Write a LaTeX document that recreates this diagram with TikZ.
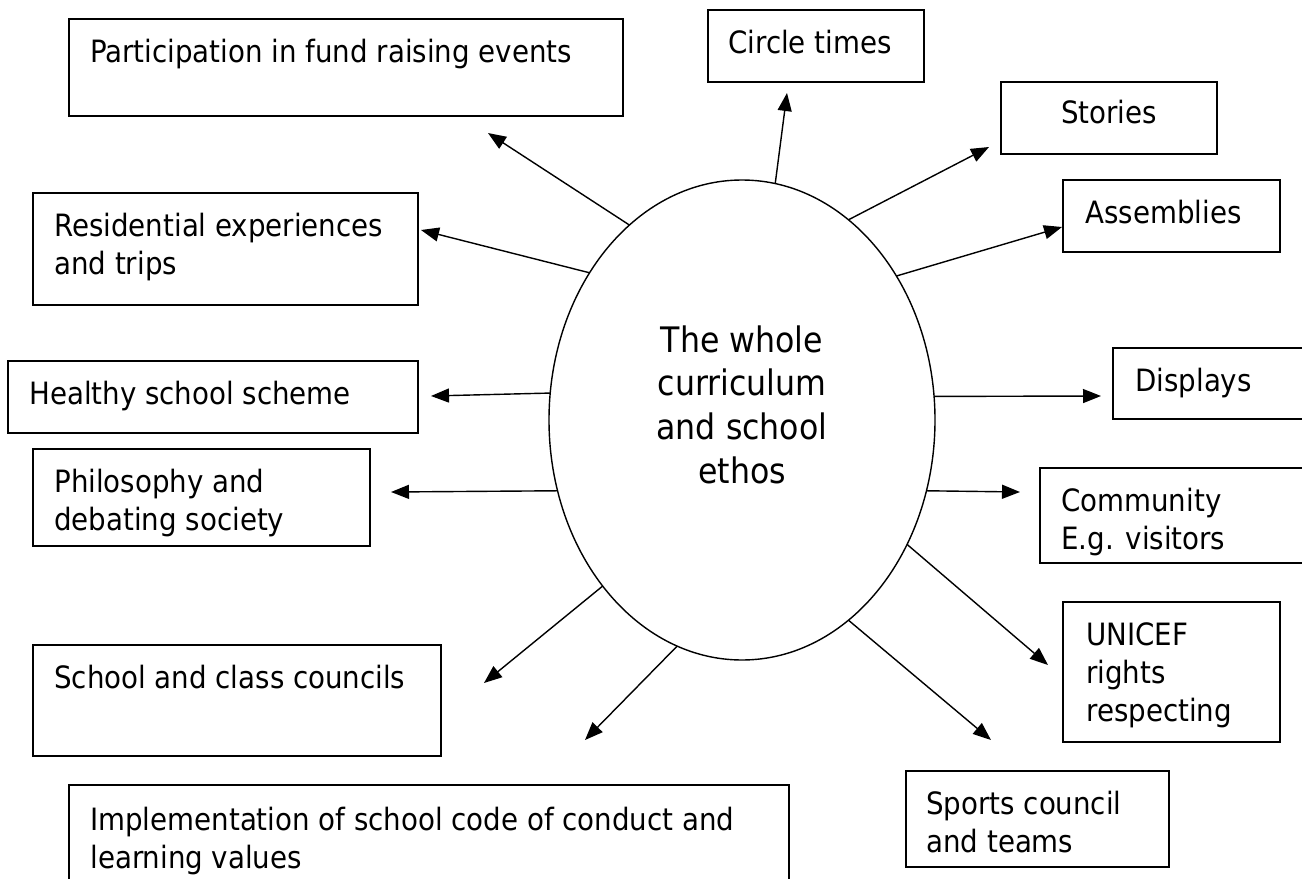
\documentclass[tikz,border=0pt]{standalone}
\usepackage{fontspec}
\setmainfont{DejaVu Sans Condensed}
\usetikzlibrary{shapes.geometric}
\usetikzlibrary{arrows.meta}
\newcommand{\px}{0.02cm}
\tikzset{
    topic/.style={draw, rectangle, anchor=north west, inner sep=0pt, outer sep=0pt, line width=0.9pt},
    topictext/.style={anchor=north west, inner sep=0pt, align=left, font=\fontsize{17.5}{21.6}\selectfont},
    hub/.style={draw, ellipse, inner sep=0pt, outer sep=0pt, line width=0.8pt, minimum width=386*\px, minimum height=480*\px},
    hubtext/.style={anchor=north, inner sep=0pt, align=center, font=\fontsize{20}{25}\selectfont},
    spoke/.style={draw, line width=0.8pt, -{Triangle[length=0.36cm, width=0.28cm]}}
}

\begin{document}
\begin{tikzpicture}[x=\px, y=-\px]
  \useasboundingbox (0,0) rectangle (1302,879);

  % the middle
  \node[hub] (hub) at (742,420) {};
  \node[hubtext] (hub-text) at (742,325) {The whole\\curriculum\\and school\\ethos};

  % left side
  \node[topic, minimum width=554*\px, minimum height=97*\px] (fund-box) at (69,19) {};
  \node[topictext] (fund-text) at ([shift={(21,20)}]fund-box.north west) {Participation in fund raising events};
  \node[topic, minimum width=385*\px, minimum height=112*\px] (resid-box) at (33,193) {};
  \node[topictext] (resid-text) at ([shift={(21,20)}]resid-box.north west) {Residential experiences\\and trips};
  \node[topic, minimum width=410*\px, minimum height=72*\px] (healthy-box) at (8,361) {};
  \node[topictext] (healthy-text) at ([shift={(21,20)}]healthy-box.north west) {Healthy school scheme};
  \node[topic, minimum width=337*\px, minimum height=97*\px] (philo-box) at (33,449) {};
  \node[topictext] (philo-text) at ([shift={(21,20)}]philo-box.north west) {Philosophy and\\debating society};
  \node[topic, minimum width=408*\px, minimum height=111*\px] (council-box) at (33,645) {};
  \node[topictext] (council-text) at ([shift={(21,20)}]council-box.north west) {School and class councils};
  \node[topic, minimum width=720*\px, minimum height=110*\px] (conduct-box) at (69,785) {};
  \node[topictext] (conduct-text) at ([shift={(21,22)}]conduct-box.north west) {Implementation of school code of conduct and\\learning values};

  % right side
  \node[topic, minimum width=216*\px, minimum height=72*\px] (circle-box) at (708,10) {};
  \node[topictext] (circle-text) at ([shift={(20,20)}]circle-box.north west) {Circle times};
  \node[topic, minimum width=216*\px, minimum height=72*\px] (stories-box) at (1001,82) {};
  \node[topictext, anchor=base] (stories-text) at ([shift={(0,41)}]stories-box.north) {Stories};
  \node[topic, minimum width=217*\px, minimum height=72*\px] (assembly-box) at (1063,180) {};
  \node[topictext] (assembly-text) at ([shift={(22,20)}]assembly-box.north west) {Assemblies};
  \node[topic, minimum width=210*\px, minimum height=71*\px] (display-box) at (1113,348) {};
  \node[topictext] (display-text) at ([shift={(22,20)}]display-box.north west) {Displays};
  \node[topic, minimum width=280*\px, minimum height=95*\px] (community-box) at (1040,468) {};
  \node[topictext] (community-text) at ([shift={(21,20)}]community-box.north west) {Community\\E.g. visitors};
  \node[topic, minimum width=217*\px, minimum height=140*\px] (unicef-box) at (1063,602) {};
  \node[topictext] (unicef-text) at ([shift={(23,20)}]unicef-box.north west) {UNICEF\\rights\\respecting};
  \node[topic, minimum width=263*\px, minimum height=96*\px] (sports-box) at (906,771) {};
  \node[topictext] (sports-text) at ([shift={(20,20)}]sports-box.north west) {Sports council\\and teams};

  % where the arrows stop
  \coordinate (fund-tip) at (488,133);
  \coordinate (resid-tip) at (421,230);
  \coordinate (healthy-tip) at (431,396);
  \coordinate (philo-tip) at (391,492);
  \coordinate (council-tip) at (484,683);
  \coordinate (conduct-tip) at (585,740);
  \coordinate (circle-tip) at (787,93);
  \coordinate (stories-tip) at (989,147);
  \coordinate (assembly-tip) at (1062,227);
  \coordinate (display-tip) at (1101,396);
  \coordinate (community-tip) at (1020,492);
  \coordinate (unicef-tip) at (1048,665);
  \coordinate (sports-tip) at (991,740);

  \path
    (hub.120.3) edge[spoke] (fund-tip)
    (hub.136.9) edge[spoke] (resid-tip)
    (hub.172.9) edge[spoke] (healthy-tip)
    (hub.201.4) edge[spoke] (philo-tip)
    (hub.230.4) edge[spoke] (council-tip)
    (hub.254.7) edge[spoke] (conduct-tip)
    (hub.82.2) edge[spoke] (circle-tip)
    (hub.62.7) edge[spoke] (stories-tip)
    (hub.43.1) edge[spoke] (assembly-tip)
    (hub.7.1) edge[spoke] (display-tip)
    (hub.-21.4) edge[spoke] (community-tip)
    (hub.-37.3) edge[spoke] (unicef-tip)
    (hub.-62.2) edge[spoke] (sports-tip);
\end{tikzpicture}
\end{document}
